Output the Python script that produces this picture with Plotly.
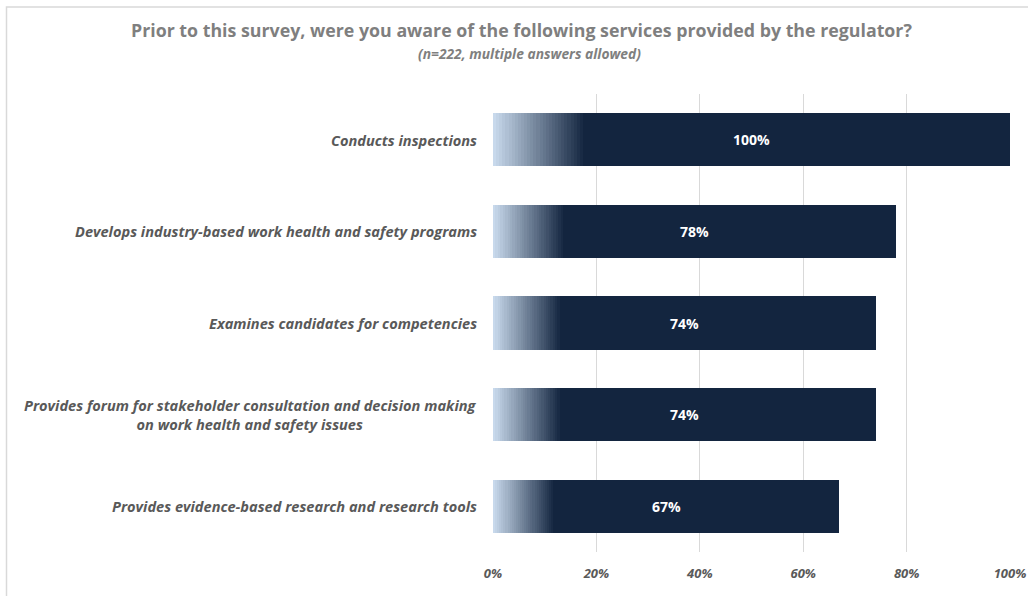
import plotly.graph_objects as go

categories = [
    "Conducts inspections",
    "Develops industry-based work health and safety programs",
    "Examines candidates for competencies",
    "Provides forum for stakeholder consultation and decision making<br>on work health and safety issues",
    "Provides evidence-based research and research tools",
]
values = [100, 78, 74, 74, 67]
value_labels = ["100%", "78%", "74%", "74%", "67%"]
tick_vals = [0, 20, 40, 60, 80, 100]
tick_text = ["0%", "20%", "40%", "60%", "80%", "100%"]

W, H = 1028, 596
ML, MR, MT, MB = 493, 18, 94, 44

dark = (19, 37, 63)
light = (200, 217, 236)
grad_frac = 0.18
n_seg = 30

fig = go.Figure()

def mix(a, b, t):
    return "rgb(%d,%d,%d)" % tuple(round(a[i] + (b[i] - a[i]) * t) for i in range(3))

for i in range(n_seg):
    t = i / (n_seg - 1)
    fig.add_trace(go.Bar(
        y=categories, x=[v * grad_frac / n_seg for v in values],
        orientation="h", marker=dict(color=mix(light, dark, t), line=dict(width=0)),
        width=0.58, hoverinfo="skip", showlegend=False,
    ))
fig.add_trace(go.Bar(
    y=categories, x=[v * (1 - grad_frac) for v in values],
    orientation="h", marker=dict(color=mix(dark, dark, 0), line=dict(width=0)),
    width=0.58, hoverinfo="skip", showlegend=False,
))

font_family = "'Open Sans', sans-serif"

pw = W - ML - MR
ph = H - MT - MB
def px_x(p):
    return (p - ML) / pw
def px_y(p):
    return (H - MB - p) / ph

annotations = []
for c, v, lab in zip(categories, values, value_labels):
    annotations.append(dict(x=v / 2, y=c, xref="x", yref="y", text="<b>" + lab + "</b>",
                            showarrow=False, font=dict(family=font_family, size=14, color="white")))
    annotations.append(dict(x=0, y=c, xref="paper", yref="y", xanchor="right", xshift=-14,
                            align="center", text="<b><i>" + c + "</i></b>", showarrow=False,
                            font=dict(family=font_family, size=14.6, color="#595959")))

annotations.append(dict(x=px_x(521), y=px_y(30), xref="paper", yref="paper", showarrow=False,
                        xanchor="center", yanchor="middle",
                        text="<b>Prior to this survey, were you aware of the following services provided by the regulator?</b>",
                        font=dict(family=font_family, size=17.8, color="#7f7f7f")))
annotations.append(dict(x=px_x(529), y=px_y(53), xref="paper", yref="paper", showarrow=False,
                        xanchor="center", yanchor="middle",
                        text="<b><i>(n=222, multiple answers allowed)</i></b>",
                        font=dict(family=font_family, size=13.8, color="#7f7f7f")))

shapes = [
    dict(type="rect", xref="paper", yref="paper", x0=px_x(6.5), x1=px_x(1060), y0=px_y(640), y1=px_y(7),
         line=dict(color="#d9d9d9", width=1.5), fillcolor="rgba(0,0,0,0)", layer="below"),
]

fig.update_layout(
    width=W, height=H, barmode="stack",
    margin=dict(l=ML, r=MR, t=MT, b=MB, autoexpand=False),
    paper_bgcolor="white", plot_bgcolor="white",
    annotations=annotations, shapes=shapes,
    xaxis=dict(range=[0, 100], tickvals=tick_vals, ticktext=tick_text, showgrid=True,
               gridcolor="#d9d9d9", gridwidth=1, zeroline=False, showline=False,
               ticks="", ticklabelstandoff=12, automargin=False,
               tickfont=dict(family=font_family, size=13, color="#595959", weight="bold", style="italic")),
    yaxis=dict(autorange="reversed", showticklabels=False, showgrid=False, zeroline=False,
               showline=False, automargin=False),
)

fig.write_html("out.html", config={"displayModeBar": False},
               post_script="document.body.style.margin='0px';document.body.style.overflow='hidden';")
